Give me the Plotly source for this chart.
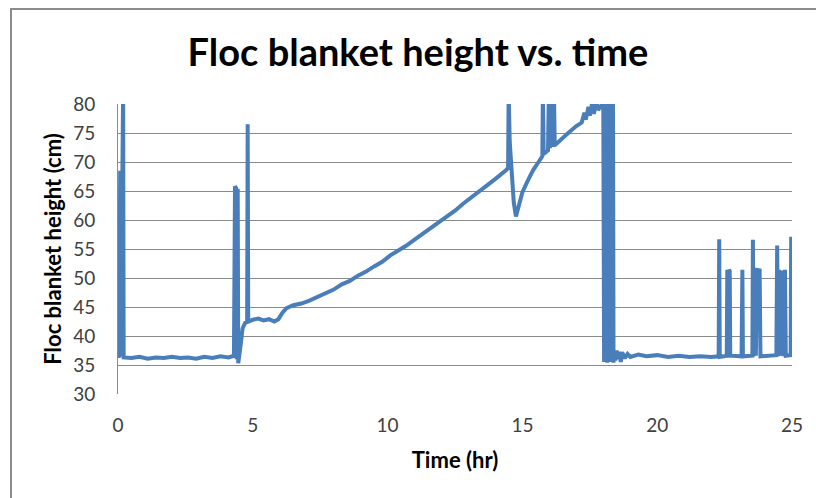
import plotly.graph_objects as go

# ---- data ----
time_hr = [
    0.00, 0.01, 0.03, 0.05, 0.08, 0.10, 0.16, 0.19, 0.21,
    0.5, 0.8, 1.1, 1.4, 1.7, 2.0, 2.3, 2.6, 2.9, 3.2, 3.5, 3.8, 4.1, 4.3,
    4.34, 4.38, 4.40, 4.44, 4.46, 4.55, 4.62, 4.72, 4.79, 4.81, 4.83,
    5.0, 5.2, 5.4, 5.6, 5.8, 5.95, 6.1, 6.25,
    6.5, 6.8, 7.1, 7.4, 7.7, 8.0, 8.3, 8.6, 8.9, 9.2, 9.5, 9.8, 10.1, 10.4,
    10.7, 11.0, 11.3, 11.6, 11.9, 12.2, 12.5, 12.8, 13.1, 13.4, 13.7, 14.0,
    14.2, 14.4, 14.47,
    14.49, 14.53, 14.6, 14.68, 14.76, 14.85, 15.0, 15.2, 15.4, 15.6, 15.74,
    15.76, 15.79, 15.95, 15.98, 16.02, 16.10, 16.14, 16.17, 16.20, 16.4,
    16.7, 17.0, 17.2, 17.3, 17.35, 17.45, 17.5, 17.6, 17.65, 17.75, 17.8,
    17.9, 18.0,
    18.03, 18.06, 18.09, 18.12, 18.15, 18.18, 18.21, 18.24, 18.27, 18.30,
    18.33, 18.36, 18.38, 18.40,
    18.45, 18.5, 18.55, 18.6, 18.65, 18.7, 18.8, 18.9, 19.0, 19.3, 19.6,
    20.0, 20.4, 20.8, 21.2, 21.6, 22.0, 22.28,
    22.30, 22.32, 22.58, 22.60, 22.63, 22.66, 22.69, 22.71, 23.13, 23.16,
    23.18, 23.53, 23.55, 23.58, 23.62, 23.66, 23.70, 23.80, 23.83, 24.42,
    24.45, 24.48, 24.52, 24.55, 24.65, 24.68, 24.74, 24.77, 24.95, 24.97,
    25.0,
]
height_cm = [
    63.5, 36.2, 63.0, 36.3, 68.5, 36.5, 82, 82, 36.3,
    36.2, 36.4, 36.1, 36.3, 36.2, 36.4, 36.2, 36.3, 36.1, 36.4, 36.2, 36.5, 36.3, 36.6,
    65.8, 65.5, 36.0, 65.4, 35.3, 38.5, 41.3, 42.3, 42.4, 76.5, 42.5,
    42.8, 43.0, 42.7, 42.9, 42.5, 42.9, 44.0, 44.8,
    45.3, 45.6, 46.1, 46.7, 47.4, 48.0, 48.9, 49.5, 50.4, 51.1, 52.0, 52.8, 53.9, 54.7,
    55.6, 56.6, 57.6, 58.6, 59.5, 60.6, 61.6, 62.8, 63.8, 64.9, 66.0, 67.1,
    67.8, 68.6, 69.0,
    82, 73.5, 68.0, 63.0, 60.6, 62.2, 64.8, 66.8, 68.6, 70.0, 71.0,
    82, 71.4, 72.0, 82, 72.4, 82, 72.6, 82, 72.9, 73.8,
    75.0, 76.2, 76.8, 78.5, 77.3, 79.5, 78.0, 80.5, 78.3, 80.5, 79.0,
    79.5, 80.5,
    35.5, 82, 35.6, 82, 35.4, 82, 35.7, 82, 35.5, 82,
    35.6, 82, 35.4, 37.3,
    35.8, 37.5, 36.0, 37.3, 35.5, 37.2, 36.2, 36.9, 36.4, 36.8, 36.5,
    36.7, 36.4, 36.6, 36.4, 36.5, 36.4, 36.5,
    56.7, 36.4, 36.6, 51.4, 36.5, 51.4, 51.2, 36.6, 36.5, 51.4,
    36.5, 36.6, 56.6, 36.5, 51.2, 36.6, 51.4, 51.3, 36.5, 36.7,
    55.6, 36.5, 51.4, 36.6, 51.3, 36.5, 51.4, 36.6, 36.7, 57.1,
    36.5,
]
x_ticks = [0, 5, 10, 15, 20, 25]
y_ticks = [30, 35, 40, 45, 50, 55, 60, 65, 70, 75, 80]

title_text = "Floc blanket height vs. time"
x_title = "Time (hr)"
y_title = "Floc blanket height (cm)"

FONT = "Lato"
W, H = 816, 498
# plot area in page pixels: x 118..792, y 104..394
L, T = 118, 104
R = W - 792
B = H - 394

fig = go.Figure()
fig.add_trace(go.Scatter(
    x=time_hr, y=height_cm, mode="lines",
    line=dict(color="#4a7ebb", width=4),
    showlegend=False, hoverinfo="x+y",
))

pw = W - L - R
ph = H - T - B

def px_x(p):  # page x pixel -> paper
    return (p - L) / pw

def px_y(p):  # page y pixel -> paper
    return (H - B - p) / ph

fig.update_layout(
    width=W, height=H,
    margin=dict(l=L, r=R, t=T, b=B),
    paper_bgcolor="white", plot_bgcolor="white",
    title=dict(text=title_text, x=418 / W, xanchor="center",
               y=1 - 53 / H, yanchor="middle",
               font=dict(family=FONT, size=38, color="black", weight="bold")),
    font=dict(family=FONT, color="#404040"),
    xaxis=dict(
        range=[0, 25], tickvals=x_ticks, ticks="", showgrid=False,
        zeroline=False, showline=False, automargin=False,
        tickfont=dict(size=19, color="#404040"), ticklabelstandoff=18,
        title=dict(text=x_title, standoff=17,
                   font=dict(size=22, color="black", weight="bold")),
    ),
    yaxis=dict(
        range=[30, 80], tickvals=y_ticks, ticks="", automargin=False,
        showgrid=True, gridcolor="#8a8a8a", gridwidth=1,
        zeroline=False, showline=True, linecolor="#8a8a8a", linewidth=1,
        tickfont=dict(size=19, color="#404040"), ticklabelstandoff=18,
        title=dict(text=y_title, standoff=5,
                   font=dict(size=22, color="black", weight="bold")),
    ),
    shapes=[dict(
        type="rect", xref="paper", yref="paper",
        x0=px_x(11), x1=px_x(W + 20),
        y0=px_y(H + 20), y1=px_y(9),
        line=dict(color="#8c8c8c", width=2), fillcolor="rgba(0,0,0,0)",
        layer="below",
    )],
)

fig.write_html(
    "out.html",
    config={"displayModeBar": False},
    post_script="document.body.style.margin='0';"
                "document.body.style.overflow='hidden';"
                "document.documentElement.style.overflow='hidden';",
)
